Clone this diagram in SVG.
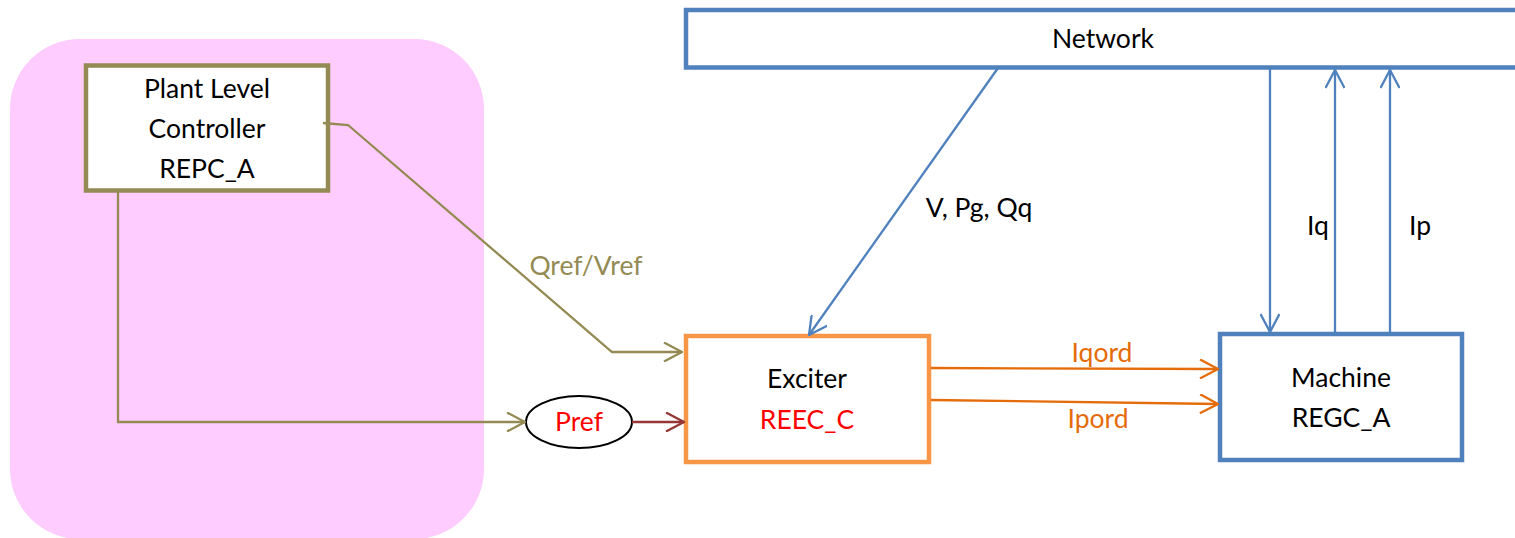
<svg xmlns="http://www.w3.org/2000/svg" width="1515" height="538" viewBox="0 0 1515 538">
<style>
text{font-family:Lato,"Open Sans","Liberation Sans",sans-serif;font-size:26.5px;text-anchor:middle;fill:#000}
.box{fill:#fff;stroke-width:4.5}
.c{fill:none;stroke-width:2.3}
.olive{stroke:#948A54}
.blue{stroke:#4F81BD}
.orange{stroke:#E46C0A}
.dred{stroke:#953735}
.red{fill:#FF0000}
</style>
<defs>
<marker id="aO" markerUnits="userSpaceOnUse" viewBox="0 0 20 20" refX="19" refY="10" markerWidth="20" markerHeight="20" orient="auto"><path d="M1,0.5 L19,10 L1,19.5" fill="none" stroke="#948A54" stroke-width="2.3"/></marker>
<marker id="aB" markerUnits="userSpaceOnUse" viewBox="0 0 20 20" refX="19" refY="10" markerWidth="20" markerHeight="20" orient="auto"><path d="M1,0.5 L19,10 L1,19.5" fill="none" stroke="#4F81BD" stroke-width="2.3"/></marker>
<marker id="aR" markerUnits="userSpaceOnUse" viewBox="0 0 20 20" refX="19" refY="10" markerWidth="20" markerHeight="20" orient="auto"><path d="M1,0.5 L19,10 L1,19.5" fill="none" stroke="#E46C0A" stroke-width="2.3"/></marker>
<marker id="aD" markerUnits="userSpaceOnUse" viewBox="0 0 20 20" refX="19" refY="10" markerWidth="20" markerHeight="20" orient="auto"><path d="M1,0.5 L19,10 L1,19.5" fill="none" stroke="#953735" stroke-width="2.3"/></marker>
</defs>
<rect id="plant-area" x="10" y="39" width="474" height="500" rx="70" ry="70" fill="#FFCCFF"/>
<g id="network">
<rect class="box blue" x="686" y="10" width="850" height="57.5"/>
<text x="1103" y="48">Network</text>
</g>
<g id="plant">
<rect class="box" stroke="#948A54" x="86" y="65.5" width="242" height="125"/>
<text x="207" y="98">Plant Level</text>
<text x="207" y="138">Controller</text>
<text x="207" y="178">REPC_A</text>
</g>
<g id="exciter">
<rect class="box" stroke="#F79646" x="686" y="336" width="243" height="126"/>
<text x="807" y="388">Exciter</text>
<text class="red" x="807" y="429">REEC_C</text>
</g>
<g id="machine">
<rect class="box blue" x="1220" y="334" width="242" height="126"/>
<text x="1341" y="387">Machine</text>
<text x="1341" y="427">REGC_A</text>
</g>
<g id="pref">
<ellipse cx="579" cy="422" rx="53" ry="26" fill="#fff" stroke="#000" stroke-width="2"/>
<text class="red" x="579" y="431">Pref</text>
</g>
<g id="connectors">
<polyline class="c olive" points="323,123 348,125 612,352 682,352" marker-end="url(#aO)"/>
<polyline class="c olive" points="118,192 118,422 525,422" marker-end="url(#aO)"/>
<line class="c dred" x1="632" y1="422" x2="684" y2="422" marker-end="url(#aD)"/>
<line class="c blue" x1="998" y1="68" x2="809" y2="335" marker-end="url(#aB)"/>
<line class="c blue" x1="1270" y1="68" x2="1270" y2="332" marker-end="url(#aB)"/>
<line class="c blue" x1="1335" y1="332" x2="1335" y2="70" marker-end="url(#aB)"/>
<line class="c blue" x1="1390" y1="332" x2="1390" y2="70" marker-end="url(#aB)"/>
<line class="c orange" x1="931" y1="368" x2="1218" y2="369" marker-end="url(#aR)"/>
<line class="c orange" x1="931" y1="400" x2="1218" y2="404" marker-end="url(#aR)"/>
<text x="586" y="275" style="fill:#948A54">Qref/Vref</text>
<text x="979" y="217">V, Pg, Qq</text>
<text x="1318" y="235">Iq</text>
<text x="1420" y="235">Ip</text>
<text x="1102" y="362" style="fill:#E46C0A">Iqord</text>
<text x="1098" y="428" style="fill:#E46C0A">Ipord</text>
</g>
</svg>
